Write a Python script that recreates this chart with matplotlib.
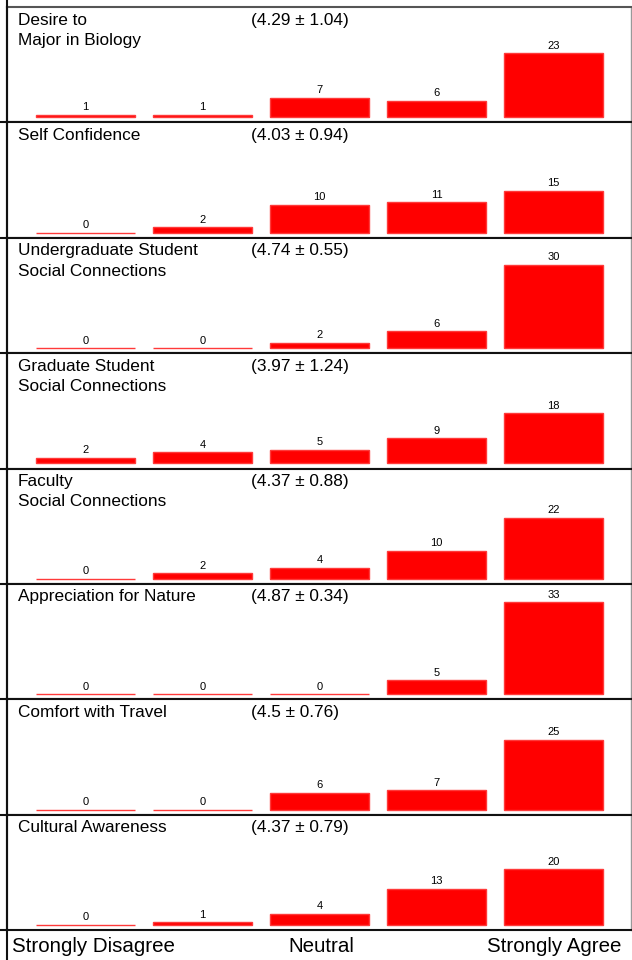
import numpy as np
import matplotlib.pyplot as plt
from matplotlib.lines import Line2D

plt.rcParams['font.family'] = ['Liberation Sans', 'DejaVu Sans']

# survey items, counts per answer (1 = strongly disagree ... 5 = strongly agree)
items = ['Desire to\nMajor in Biology', 'Self Confidence',
         'Undergraduate Student\nSocial Connections',
         'Graduate Student\nSocial Connections',
         'Faculty\nSocial Connections', 'Appreciation for Nature',
         'Comfort with Travel', 'Cultural Awareness']
counts = [[1, 1, 7, 6, 23],
          [0, 2, 10, 11, 15],
          [0, 0, 2, 6, 30],
          [2, 4, 5, 9, 18],
          [0, 2, 4, 10, 22],
          [0, 0, 0, 5, 33],
          [0, 0, 6, 7, 25],
          [0, 1, 4, 13, 20]]
means = ['4.29', '4.03', '4.74', '3.97', '4.37', '4.87', '4.5', '4.37']
sds = ['1.04', '0.94', '0.55', '1.24', '0.88', '0.34', '0.76', '0.79']
scale_labels = ['Strongly Disagree', 'Neutral', 'Strongly Agree']

W, H = 632, 960
fig = plt.figure(figsize=(W / 100, H / 100), dpi=100)

x = np.arange(1, 6)
top, bottom = 7, 930
ph = (bottom - top) / len(items)
left, right = 7, 631

for i in range(len(items)):
    y0 = top + ph * (i + 1)
    ax = fig.add_axes([left / W, 1 - y0 / H, (right - left) / W, ph / H])
    ax.bar(x, counts[i], width=0.845, color='#ff0000', edgecolor='#ff3a3a', linewidth=1.0)
    for xi, c in zip(x, counts[i]):
        ax.text(xi, c + 0.9, str(c), ha='center', va='bottom', fontsize=8)
    ax.set_xlim(1 - 0.67, 5 + 0.66)
    ax.set_ylim(-1.8, 39.6)
    ax.set_xticks([])
    ax.set_yticks([])
    ax.text(0.0176, 0.952, items[i], transform=ax.transAxes, ha='left', va='top',
            fontsize=12.4, linespacing=1.45)
    ax.text(0.391, 0.952, '(%s ± %s)' % (means[i], sds[i]), transform=ax.transAxes,
            ha='left', va='top', fontsize=12.4)
    for s in ['left', 'top', 'bottom']:
        ax.spines[s].set_color('#111111')
        ax.spines[s].set_linewidth(1.5)
    ax.spines['right'].set_color('#999999')
    ax.spines['right'].set_linewidth(1.0)
    if i == 0:
        ax.spines['top'].set_color('#555555')

# frame bits left of the panels
fig.add_artist(Line2D([left / W, left / W], [0, 1], color='#111111', lw=1.5))
for i in range(1, len(items) + 1):
    yy = 1 - (top + ph * i) / H
    fig.add_artist(Line2D([0, left / W], [yy, yy], color='#111111', lw=1.5))

# answer scale under the panels
fig.text(12 / W, 1 - 946 / H, scale_labels[0], ha='left', va='center', fontsize=14.8)
fig.text(321 / W, 1 - 946 / H, scale_labels[1], ha='center', va='center', fontsize=14.8)
fig.text(621 / W, 1 - 946 / H, scale_labels[2], ha='right', va='center', fontsize=14.8)

fig.savefig('out.png', dpi=100)
